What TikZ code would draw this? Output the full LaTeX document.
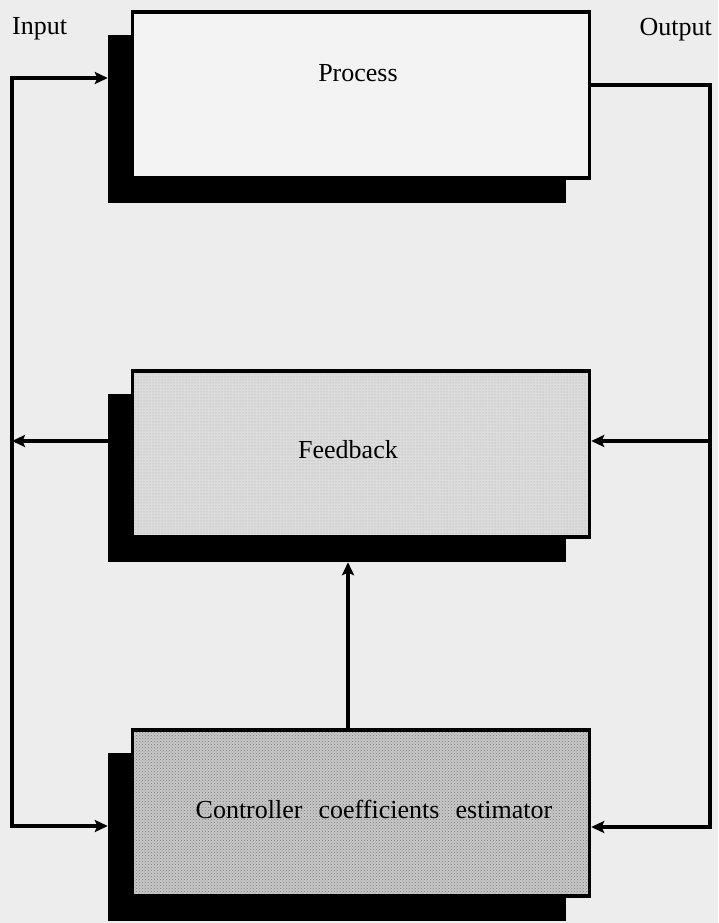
\documentclass[tikz,border=0pt]{standalone}
\usepackage{fontspec}
\setmainfont{Liberation Serif}
\usetikzlibrary{arrows.meta,patterns}

\definecolor{paper}{HTML}{EDEDED}
\definecolor{procfill}{HTML}{F3F3F3}
\definecolor{fbfill}{HTML}{DCDCDC}
\definecolor{fbdots}{HTML}{A4A4A4}
\definecolor{estfill}{HTML}{C8C8C8}
\definecolor{estdots}{HTML}{7C7C7C}

\tikzset{
  lbl/.style={font=\fontsize{26}{30}\selectfont, inner sep=0pt, anchor=base},
  shadowbox/.style={rectangle, fill=black, inner sep=0pt,
    minimum width=458pt, minimum height=168pt},
  blockbox/.style={rectangle, draw=black, line width=3.4pt, inner sep=0pt,
    minimum width=457pt, minimum height=166pt},
  wire/.style={line width=3.4pt, line join=miter,
    -{Stealth[length=13pt,width=12pt,inset=2.5pt]}},
  biwire/.style={line width=3.4pt, line join=miter,
    {Stealth[length=13pt,width=12pt,inset=2.5pt]}-{Stealth[length=13pt,width=12pt,inset=2.5pt]}}
}

\begin{document}
\begin{tikzpicture}[x=1pt,y=-1pt]
  \path[use as bounding box, fill=paper] (0,0) rectangle (718,923);

  % black offset shadows behind each block
  \node[shadowbox] (procS) at (337,119) {};
  \node[shadowbox] (fbS)   at (337,478) {};
  \node[shadowbox] (estS)  at (337,837) {};

  % the three blocks, the lower two with a halftone screen
  \node[blockbox, fill=procfill] (proc) at (361,95) {};
  \node[blockbox, fill=fbfill,
        postaction={pattern=dots, pattern color=fbdots}] (fb) at (361,454) {};
  \node[blockbox, fill=estfill,
        postaction={pattern=crosshatch dots, pattern color=estdots}] (est) at (361,813) {};
  \node[blockbox] at (361,454) {};
  \node[blockbox] at (361,813) {};

  % block titles
  \node[lbl] (procT) at (358,82)  {Process};
  \node[lbl] (fbT)   at (348,458) {Feedback};
  \node[lbl] (estT)  at (374,818) {Controller\hspace{0.62em}coefficients\hspace{0.62em}estimator};

  % terminal labels
  \node[lbl, anchor=base west] (inT)  at (12,35)  {Input};
  \node[lbl, anchor=base east] (outT) at (712,36) {Output};

  % bus corners and branch heights
  \coordinate (busTL) at (12,78);
  \coordinate (busBL) at (12,826);
  \coordinate (busTR) at (710,85);
  \coordinate (busBR) at (710,827);
  \coordinate (fbY)   at (0,441);
  \coordinate (upX)   at (348,0);

  % input bus on the left
  \draw[biwire] (busTL -| procS.west) -- (busTL) -- (busBL) -- (busBL -| estS.west);
  \draw[wire] (fbY -| fbS.west) -- (fbY -| busTL);

  % output bus on the right
  \draw[wire] (busTR -| proc.east) -- (busTR) -- (busBR) -- (busBR -| est.east);
  \draw[wire] (fbY -| busTR) -- (fbY -| fb.east);

  % estimator drives the feedback block
  \draw[wire] (upX |- est.north) -- (upX |- fbS.south);
\end{tikzpicture}
\end{document}
